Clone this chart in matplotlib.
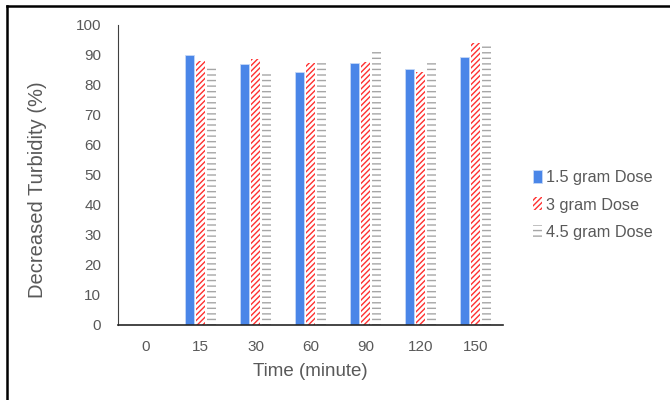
import numpy as np
import matplotlib
matplotlib.use("Agg")
import matplotlib.pyplot as plt
from matplotlib.lines import Line2D

plt.rcParams['font.family'] = ['Liberation Sans', 'DejaVu Sans']
plt.rcParams['hatch.linewidth'] = 1.0

times = ['0', '15', '30', '60', '90', '120', '150']
dose_15 = [0, 90.0, 86.9, 84.4, 87.2, 85.3, 89.2]
dose_3 = [0, 88.1, 88.7, 87.2, 87.8, 84.4, 94.1]
dose_45 = [0, 85.6, 83.7, 87.2, 91.1, 87.2, 93.0]
labels = ['1.5 gram Dose', '3 gram Dose', '4.5 gram Dose']

txt = '#595959'

fig = plt.figure(figsize=(6.7, 4.0), dpi=100)
ax = fig.add_axes([118 / 670, 1 - 325 / 400, 385 / 670, 300 / 400])

x = np.arange(len(times))
w = 0.17
ax.bar(x - 0.2, dose_15, w, color='#4a86e8', edgecolor='#c5d8f7', linewidth=0.6,
       label=labels[0])
ax.bar(x, dose_3, w, color='white', edgecolor='#ff3030', hatch='//////', linewidth=0,
       label=labels[1])
ax.bar(x + 0.2, dose_45, w, color='white', edgecolor='#a6a6a6', hatch='---', linewidth=0,
       label=labels[2])

ax.set_xlim(-0.5, len(times) - 0.5)
ax.set_ylim(0, 100)
ax.set_yticks(range(0, 101, 10))
ax.set_xticks(x)
ax.set_xticklabels(times)
ax.tick_params(axis='both', length=0, labelsize=11, colors=txt)
ax.tick_params(axis='x', pad=11)
ax.tick_params(axis='y', pad=12)
for s in ['top', 'right']:
    ax.spines[s].set_visible(False)
ax.spines['left'].set_color('#404040')
ax.spines['bottom'].set_color('#262626')
ax.spines['bottom'].set_linewidth(1.2)

ax.set_xlabel('Time (minute)', fontsize=13.5, color=txt, labelpad=6)
ax.set_ylabel('Decreased Turbidity (%)', fontsize=14.5, color=txt)
ax.yaxis.set_label_coords(47 / 670, 1 - 190 / 400, transform=fig.transFigure)

leg = ax.legend(loc='center left', bbox_to_anchor=(518 / 670, 1 - 205 / 400),
                bbox_transform=fig.transFigure, frameon=False, fontsize=11.7,
                handlelength=0.55, handleheight=0.85, handletextpad=0.3,
                labelspacing=0.75, labelcolor=txt)

# outer frame (left and top edges)
fig.add_artist(Line2D([6.5 / 670, 6.5 / 670], [0, 1 - 5.5 / 400], color='black', lw=1.8,
                      transform=fig.transFigure))
fig.add_artist(Line2D([6.5 / 670, 1], [1 - 5.5 / 400, 1 - 5.5 / 400], color='black', lw=1.8,
                      transform=fig.transFigure))

fig.savefig('out.png', dpi=100)
